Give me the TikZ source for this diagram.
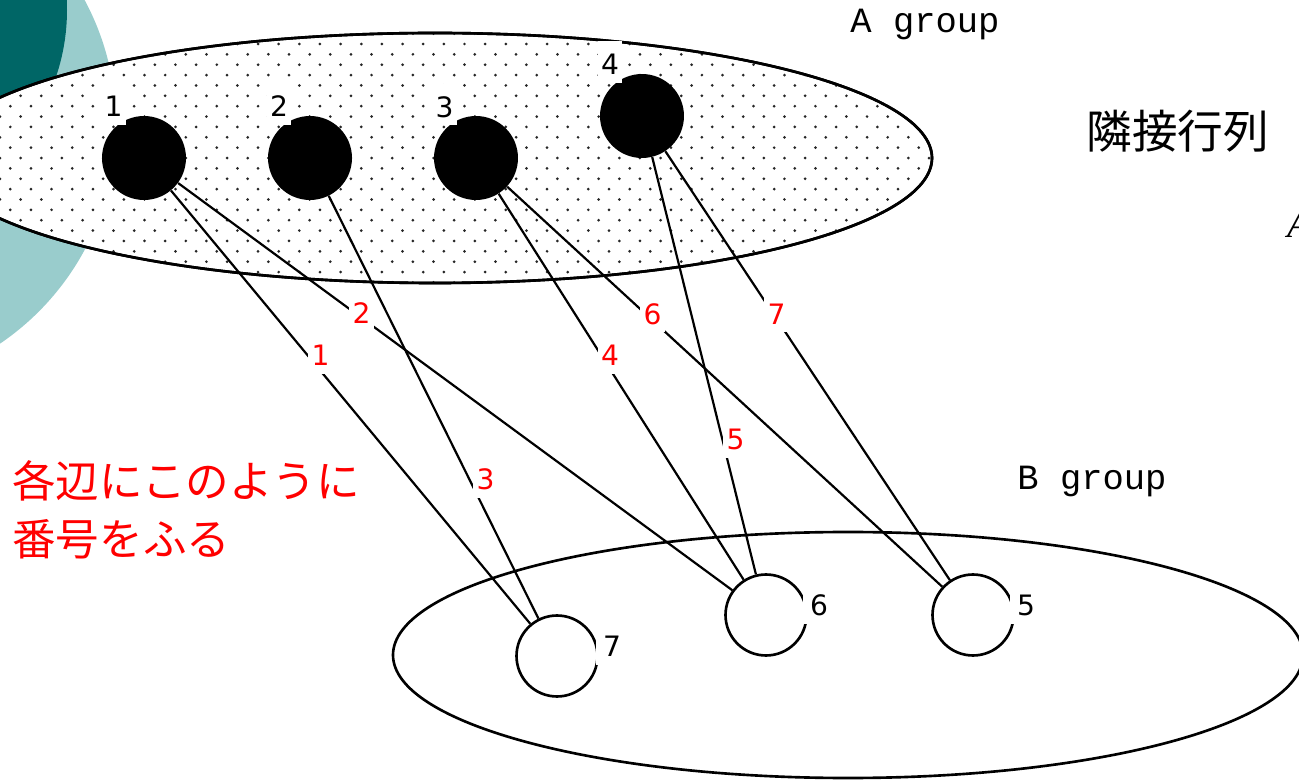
\documentclass[tikz,border=0pt]{standalone}
\usepackage{fontspec}
\setmainfont{DejaVu Sans}
\newfontfamily\courfont{Liberation Mono}
\newfontfamily\jpfont{Noto Sans CJK JP}
\newfontfamily\timesfont{Liberation Serif}
\usepackage{tikz}
\usetikzlibrary{patterns}
\definecolor{tealdark}{RGB}{0,102,102}
\definecolor{teallight}{RGB}{153,204,204}
\pgfdeclarepatternformonly{slidedots}{\pgfqpoint{-1pt}{-1pt}}{\pgfqpoint{7pt}{7pt}}{\pgfqpoint{11.75pt}{11.8pt}}{
  \pgfpathcircle{\pgfqpoint{0pt}{0pt}}{0.85pt}
  \pgfpathcircle{\pgfqpoint{5.875pt}{5.9pt}}{0.85pt}
  \pgfusepath{fill}}
\tikzset{
  vtxa/.style={circle, fill=black, inner sep=0pt, minimum size=1.68cm},
  vtxb/.style={circle, draw=black, line width=1.5pt, fill=white, inner sep=0pt, minimum size=1.62cm},
  edge/.style={line width=1.25pt},
  numbox/.style={fill=white, inner xsep=2pt, inner ysep=0pt, text height=19pt, text depth=4.5pt,
    font=\fontsize{16}{19}\selectfont},
  numlabel/.style={numbox, text=black},
  sidelabel/.style={numlabel, inner xsep=4pt},
  edgelabel/.style={numbox, text=red},
  grouplabel/.style={font=\courfont\fontsize{20.2}{24}\selectfont, inner sep=0pt},
  groupline/.style={line width=1.5pt}
}

\begin{document}
\begin{tikzpicture}[x=0.02cm, y=-0.02cm]
            \useasboundingbox (0,0) rectangle (1299,780);
            \clip (0,0) rectangle (1299,780);
            \fill[teallight] (-148,125) circle [radius=264];
            \fill[tealdark] (-140,10) circle [radius=207];
            \draw[groupline, fill=white] (435,158) ellipse [x radius=497, y radius=125];
            \fill[pattern=slidedots, pattern color=black!85] (435,158) ellipse [x radius=497, y radius=125];
            \draw[groupline] (435,158) ellipse [x radius=497, y radius=125];
            \draw[groupline] (848,655) ellipse [x radius=455, y radius=123];
            \node[vtxa] (a1) at (144,158) {};
            \node[vtxa] (a2) at (310,158) {};
            \node[vtxa] (a3) at (476,158) {};
            \node[vtxa] (a4) at (642,116) {};
            \node[vtxb] (b7) at (557,656) {};
            \node[vtxb] (b6) at (766,615) {};
            \node[vtxb] (b5) at (973,615) {};
            \draw[edge] (a1) -- (b7);
            \draw[edge] (a1) -- (b6);
            \draw[edge] (a2) -- (b7);
            \draw[edge] (a3) -- (b6);
            \draw[edge] (a4) -- (b6);
            \draw[edge] (a3) -- (b5);
            \draw[edge] (a4) -- (b5);
            \node[numlabel] (n1) at (113.5,104) {1};
            \node[numlabel] (n2) at (279,104) {2};
            \node[numlabel] (n3) at (444.5,104.5) {3};
            \node[numlabel] (n4) at (610,62) {4};
            \node[sidelabel] (n7) at (612,644) {7};
            \node[sidelabel] (n6) at (819,603) {6};
            \node[sidelabel] (n5) at (1026,603) {5};
            \node[edgelabel] (e1) at (320.5,353) {1};
            \node[edgelabel] (e2) at (361.5,311) {2};
            \node[edgelabel] (e3) at (485.5,477) {3};
            \node[edgelabel] (e4) at (610,353) {4};
            \node[edgelabel] (e5) at (735.5,437) {5};
            \node[edgelabel] (e6) at (652.5,311.5) {6};
            \node[edgelabel] (e7) at (776.5,311.5) {7};
            \node[grouplabel] (ga) at (925,24) {A group};
            \node[grouplabel] (gb) at (1092,481) {B group};
            \node[anchor=west, inner sep=0pt, font=\jpfont\fontsize{26}{30}\selectfont] (title) at (1086,131) {隣接行列};
            \node[anchor=west, inner sep=0pt, align=left, text=red, font=\jpfont\fontsize{24.8}{33}\selectfont] (note) at (12,510) {各辺にこのように\\番号をふる};
            \node[anchor=west, inner sep=0pt, font=\timesfont\itshape\fontsize{22}{26}\selectfont] (amat) at (1287,225) {A};
          \end{tikzpicture}
\end{document}
